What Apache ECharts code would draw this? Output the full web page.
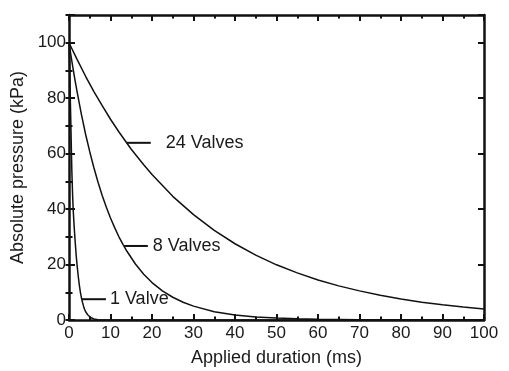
<!DOCTYPE html>
<html>
<head>
<meta charset="utf-8">
<script src="https://cdn.jsdelivr.net/npm/echarts@6/dist/echarts.min.js"></script>
<style>
  html, body { margin: 0; padding: 0; background: #fff; }
  #chart { width: 509px; height: 371px; }
</style>
</head>
<body>
<div id="chart"></div>
<script>
// pressure (kPa) against applied duration (ms)
const valve24 = [[0, 100], [2, 93.8], [4, 87.9], [6, 82.4], [8, 77.3], [10, 72.4], [12, 67.9], [15, 61.6],
  [18, 56.0], [20, 52.5], [25, 44.6], [30, 38.0], [35, 32.3], [40, 27.5], [45, 23.4], [50, 19.9],
  [55, 17.0], [60, 14.4], [65, 12.3], [70, 10.5], [75, 8.9], [80, 7.6], [85, 6.4], [90, 5.5],
  [95, 4.7], [100, 4.0]];
const valve8 = [[0, 100], [0.5, 95.1], [1, 90.5], [1.5, 86.1], [2, 81.9], [3, 74.1], [4, 67.0], [5, 60.7],
  [6, 54.9], [7, 49.7], [8, 44.9], [9, 40.7], [10, 36.8], [11, 33.3], [12, 30.1], [13, 27.3], [14, 24.7],
  [16, 20.2], [18, 16.5], [20, 13.5], [22.5, 10.5], [25, 8.2], [27.5, 6.4], [30, 5.0], [35, 3.0],
  [40, 1.8], [45, 1.1], [50, 0.7], [55, 0.45], [60, 0.3], [70, 0.1], [80, 0.05], [100, 0]];
const valve1 = [[0, 100], [0.2, 87], [0.4, 74], [0.55, 63], [0.7, 53], [0.85, 46], [1, 40], [1.25, 33.5],
  [1.5, 28], [1.75, 23], [2, 19], [2.25, 15.5], [2.5, 12.5], [2.75, 10], [3, 8], [3.25, 6.4], [3.5, 5],
  [3.75, 3.9], [4, 3], [4.5, 1.9], [5, 1.2], [5.5, 0.7], [6, 0.4], [7, 0.1], [8, 0], [100, 0]];

// annotation leaders
const labelNames = ['24 Valves', '8 Valves', '1 Valve'];
const labelY = [63.9, 26.7, 7.5];
const labelX0 = [13.9, 13.3, 3.1];
const labelX1 = [19.7, 19.0, 8.9];
const labelGap = [15, 5, 4];

const xTicks = { min: 0, max: 100, interval: 10 };
const yTicks = { min: 0, max: 110 };

const FONT = 'Liberation Sans, Arial, Helvetica, sans-serif';

const curve = (name, data) => ({
  name,
  type: 'line',
  data,
  showSymbol: false,
  smooth: false,
  lineStyle: { color: '#111', width: 1.5 },
  z: 3
});

const leaders = labelNames.map((name, i) => ({
  name,
  type: 'line',
  data: [[labelX0[i], labelY[i]], [labelX1[i], labelY[i]]],
  showSymbol: false,
  lineStyle: { color: '#111', width: 2 },
  endLabel: {
    show: true,
    formatter: name,
    distance: labelGap[i],
    color: '#1a1a1a',
    fontFamily: FONT,
    fontSize: 18
  },
  z: 4
}));

const tickStyle = { color: '#111', width: 2 };

const myChart = echarts.init(document.getElementById('chart'));
myChart.setOption({
  animation: false,
  backgroundColor: '#fff',
  grid: { left: 69, right: 25, top: 15, bottom: 51, outerBoundsMode: 'none' },
  xAxis: [
    {
      type: 'value',
      position: 'bottom',
      ...xTicks,
      name: 'Applied duration (ms)',
      nameLocation: 'middle',
      nameGap: 29,
      nameTextStyle: { color: '#1a1a1a', fontFamily: FONT, fontSize: 18 },
      axisLine: { show: true, onZero: false, lineStyle: { color: '#111', width: 2.5 } },
      axisTick: { show: true, inside: true, length: 6, lineStyle: tickStyle },
      minorTick: { show: true, splitNumber: 2, length: 3.5, lineStyle: tickStyle },
      axisLabel: { color: '#1a1a1a', fontFamily: FONT, fontSize: 17, margin: 5 },
      splitLine: { show: false }
    },
    {
      type: 'value',
      position: 'top',
      ...xTicks,
      axisLine: { show: true, onZero: false, lineStyle: { color: '#111', width: 2.5 } },
      axisTick: { show: true, inside: true, length: 6, lineStyle: tickStyle },
      minorTick: { show: true, splitNumber: 2, length: 3.5, lineStyle: tickStyle },
      axisLabel: { show: false },
      splitLine: { show: false }
    }
  ],
  yAxis: [
    {
      type: 'value',
      position: 'left',
      ...yTicks,
      interval: 20,
      name: 'Absolute pressure (kPa)',
      nameLocation: 'middle',
      nameGap: 35,
      nameTextStyle: { color: '#1a1a1a', fontFamily: FONT, fontSize: 18 },
      axisLine: { show: true, onZero: false, lineStyle: { color: '#111', width: 2.5 } },
      axisTick: { show: true, inside: true, length: 6, lineStyle: tickStyle },
      axisLabel: {
        color: '#1a1a1a', fontFamily: FONT, fontSize: 17, margin: 3,
        formatter: v => (v > 100 ? '' : String(v))
      },
      splitLine: { show: false }
    },
    {
      type: 'value',
      position: 'left',
      ...yTicks,
      interval: 10,
      axisLine: { show: false },
      axisTick: { show: true, inside: true, length: 3.5, lineStyle: tickStyle },
      axisLabel: { show: false },
      splitLine: { show: false }
    },
    {
      type: 'value',
      position: 'right',
      ...yTicks,
      interval: 20,
      axisLine: { show: true, onZero: false, lineStyle: { color: '#111', width: 2.5 } },
      axisTick: { show: true, inside: true, length: 6, lineStyle: tickStyle },
      axisLabel: { show: false },
      splitLine: { show: false }
    },
    {
      type: 'value',
      position: 'right',
      ...yTicks,
      interval: 10,
      axisLine: { show: false },
      axisTick: { show: true, inside: true, length: 3.5, lineStyle: tickStyle },
      axisLabel: { show: false },
      splitLine: { show: false }
    }
  ],
  series: [
    curve('24 Valves', valve24),
    curve('8 Valves', valve8),
    curve('1 Valve', valve1),
    ...leaders
  ]
});
</script>
</body>
</html>
